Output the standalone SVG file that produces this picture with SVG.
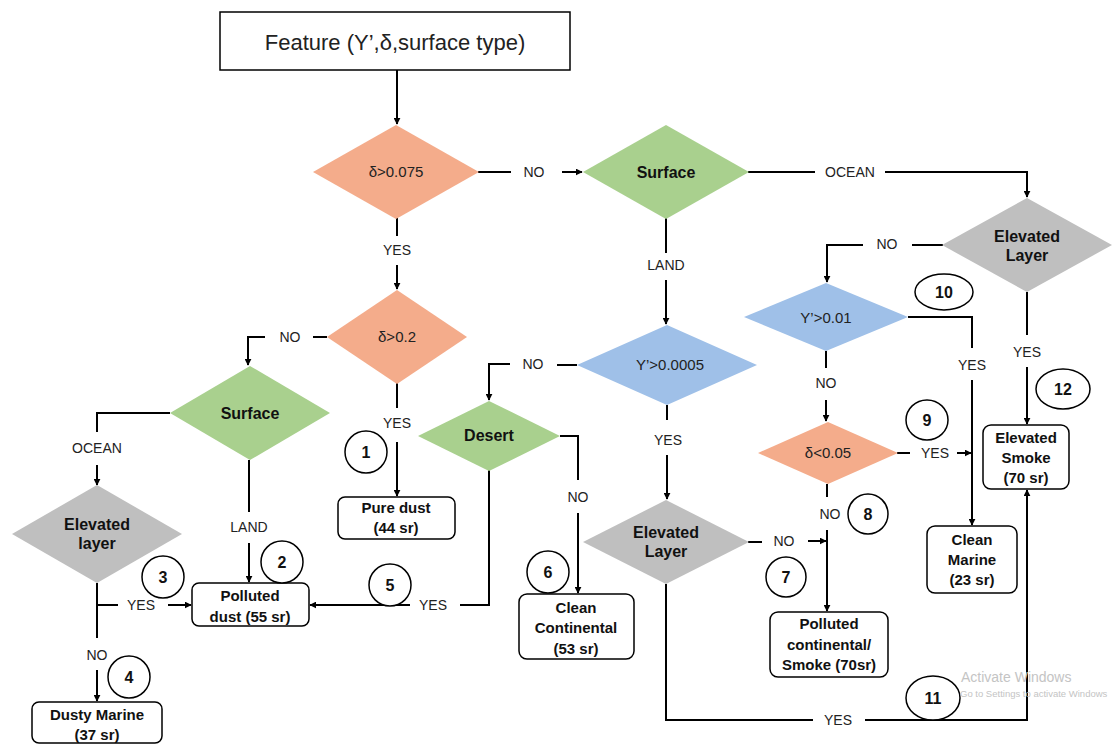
<svg xmlns="http://www.w3.org/2000/svg" width="1115" height="744" viewBox="0 0 1115 744">
  <defs>
    <marker id="arrow" viewBox="0 0 10 10" refX="9" refY="5" markerWidth="7" markerHeight="7" markerUnits="userSpaceOnUse" orient="auto">
      <path d="M0,0 L10,5 L0,10 z" fill="#000"/>
    </marker>
    <style>
      .lbl { font-family: "Liberation Sans", Arial, sans-serif; font-size: 14px; fill: #222; text-anchor: middle; }
      .cond { font-family: "Liberation Sans", Arial, sans-serif; font-size: 15px; fill: #222; text-anchor: middle; }
      .dlbl { font-family: "Liberation Sans", Arial, sans-serif; font-size: 16px; font-weight: bold; fill: #111; text-anchor: middle; }
      .box { fill: #fff; stroke: #000; stroke-width: 1.5; }
      .btxt { font-family: "Liberation Sans", Arial, sans-serif; font-size: 15px; font-weight: bold; fill: #111; text-anchor: middle; }
      .num { fill: #fff; stroke: #000; stroke-width: 1.5; }
      .ntxt { font-family: "Liberation Sans", Arial, sans-serif; font-size: 16px; font-weight: bold; fill: #111; text-anchor: middle; }
      .orange { fill: #F4AC8B; }
      .green { fill: #A9D08E; }
      .blue { fill: #9FC0E8; }
      .gray { fill: #BFBFBF; }
      .conn path { fill: none; stroke: #000; stroke-width: 2; }
      .conn path.a { marker-end: url(#arrow); }
      .wm { font-family: "Liberation Sans", Arial, sans-serif; fill: #c4c4c4; }
    </style>
  </defs>

  <rect width="1115" height="744" fill="#fff"/>

  <!-- connectors -->
  <g id="connectors" class="conn">
    <path class="a" d="M397,70 V124"/>
    <path d="M478,172 H511"/>
    <path class="a" d="M562,172 H582"/>
    <path d="M748,172 H815"/>
    <path class="a" d="M885,172 H1027 V197"/>
    <path d="M943,245 H912"/>
    <path class="a" d="M863,245 H827 V282"/>
    <path d="M908,317 H972 V348"/>
    <path class="a" d="M972,380 V525"/>
    <path d="M826,351 V368"/>
    <path class="a" d="M826,400 V421"/>
    <path d="M897,453 H910"/>
    <path class="a" d="M957,453 H971"/>
    <path d="M827,484 V497"/>
    <path class="a" d="M827,530 V611"/>
    <path d="M1027,292 V335"/>
    <path class="a" d="M1027,367 V424"/>
    <path d="M748,542 H762"/>
    <path class="a" d="M808,541 H826"/>
    <path d="M666,584 V720 H813"/>
    <path class="a" d="M865,720 H1027 V490"/>
    <path d="M397,218 V236"/>
    <path class="a" d="M397,265 V289"/>
    <path d="M666,218 V253"/>
    <path class="a" d="M666,280 V324"/>
    <path d="M327,337 H313"/>
    <path class="a" d="M265,337 H248 V365"/>
    <path d="M397,383 V408"/>
    <path class="a" d="M397,442 V496"/>
    <path d="M170,413 H97 V432"/>
    <path class="a" d="M97,465 V485"/>
    <path d="M249,460 V512"/>
    <path class="a" d="M249,543 V582"/>
    <path d="M97,583 V638"/>
    <path d="M97,605 H118"/>
    <path class="a" d="M168,605 H191"/>
    <path class="a" d="M97,670 V701"/>
    <path d="M577,365 H557"/>
    <path class="a" d="M510,364 H489 V400"/>
    <path d="M667,405 V420"/>
    <path class="a" d="M667,455 V499"/>
    <path d="M560,436 H578 V480"/>
    <path class="a" d="M578,513 V593"/>
    <path d="M489,470 V605 H460"/>
    <path class="a" d="M410,605 H310"/>

    <!-- branch labels -->
    <text class="lbl" x="534" y="177">NO</text>
    <text class="lbl" x="850" y="177">OCEAN</text>
    <text class="lbl" x="887" y="249">NO</text>
    <text class="lbl" x="972" y="370">YES</text>
    <text class="lbl" x="826" y="388">NO</text>
    <text class="lbl" x="935" y="458">YES</text>
    <text class="lbl" x="830" y="519">NO</text>
    <text class="lbl" x="1027" y="357">YES</text>
    <text class="lbl" x="784" y="546">NO</text>
    <text class="lbl" x="838" y="725">YES</text>
    <text class="lbl" x="397" y="255">YES</text>
    <text class="lbl" x="666" y="270">LAND</text>
    <text class="lbl" x="290" y="342">NO</text>
    <text class="lbl" x="397" y="428">YES</text>
    <text class="lbl" x="97" y="453">OCEAN</text>
    <text class="lbl" x="249" y="532">LAND</text>
    <text class="lbl" x="141" y="610">YES</text>
    <text class="lbl" x="97" y="660">NO</text>
    <text class="lbl" x="533" y="369">NO</text>
    <text class="lbl" x="668" y="445">YES</text>
    <text class="lbl" x="578" y="502">NO</text>
    <text class="lbl" x="433" y="610">YES</text>
  </g>

  <!-- start box -->
  <g id="feature">
    <rect x="220" y="12" width="350" height="58" fill="#fff" stroke="#000" stroke-width="1.5"/>
    <text x="395" y="50" font-family="Liberation Sans, Arial, sans-serif" font-size="22" fill="#222" text-anchor="middle">Feature (Υ’,δ,surface type)</text>
  </g>

  <!-- decisions -->
  <g id="dep-0075">
    <polygon class="orange" points="396,125 479,172 396,219 313,172"/>
    <text class="cond" x="396" y="177">δ&gt;0.075</text>
  </g>
  <g id="surface-main">
    <polygon class="green" points="666,125 749,172 666,219 583,172"/>
    <text class="dlbl" x="666" y="178">Surface</text>
  </g>
  <g id="elevated-ocean">
    <polygon class="gray" points="1027,198 1112,245 1027,292 942,245"/>
    <text class="dlbl" x="1027" y="242">Elevated</text>
    <text class="dlbl" x="1027" y="261">Layer</text>
  </g>
  <g id="ratio-001">
    <polygon class="blue" points="826,283 908,317 826,351 744,317"/>
    <text class="cond" x="826" y="323">Υ’&gt;0.01</text>
  </g>
  <g id="dep-005">
    <polygon class="orange" points="828,422 898,453 828,484 758,453"/>
    <text class="cond" x="828" y="458">δ&lt;0.05</text>
  </g>
  <g id="elevated-land">
    <polygon class="gray" points="666,500 749,542 666,584 583,542"/>
    <text class="dlbl" x="666" y="538">Elevated</text>
    <text class="dlbl" x="666" y="557">Layer</text>
  </g>
  <g id="ratio-00005">
    <polygon class="blue" points="667,325 757,365 667,405 577,365"/>
    <text class="cond" x="670" y="370">Υ’&gt;0.0005</text>
  </g>
  <g id="desert">
    <polygon class="green" points="489,401 560,436 489,471 418,436"/>
    <text class="dlbl" x="489" y="441">Desert</text>
  </g>
  <g id="dep-02">
    <polygon class="orange" points="397,290 467,337 397,384 327,337"/>
    <text class="cond" x="397" y="342">δ&gt;0.2</text>
  </g>
  <g id="surface-dust">
    <polygon class="green" points="250,366 330,413 250,460 170,413"/>
    <text class="dlbl" x="250" y="419">Surface</text>
  </g>
  <g id="elevated-dust">
    <polygon class="gray" points="97,485 182,534 97,583 12,534"/>
    <text class="dlbl" x="97" y="530">Elevated</text>
    <text class="dlbl" x="97" y="549">layer</text>
  </g>

  <!-- aerosol types -->
  <g id="pure-dust">
    <rect class="box" x="338" y="497" width="117" height="42" rx="7"/>
    <text class="btxt" x="396" y="513">Pure dust</text>
    <text class="btxt" x="396" y="533">(44 sr)</text>
  </g>
  <g id="polluted-dust">
    <rect class="box" x="192" y="583" width="117" height="43" rx="7"/>
    <text class="btxt" x="250" y="601">Polluted</text>
    <text class="btxt" x="250" y="622">dust (55 sr)</text>
  </g>
  <g id="dusty-marine">
    <rect class="box" x="32" y="702" width="130" height="41" rx="7"/>
    <text class="btxt" x="97" y="720">Dusty Marine</text>
    <text class="btxt" x="97" y="740">(37 sr)</text>
  </g>
  <g id="clean-continental">
    <rect class="box" x="519" y="594" width="115" height="65" rx="8"/>
    <text class="btxt" x="576" y="613">Clean</text>
    <text class="btxt" x="576" y="633">Continental</text>
    <text class="btxt" x="576" y="654">(53 sr)</text>
  </g>
  <g id="polluted-continental">
    <rect class="box" x="770" y="612" width="118" height="65" rx="8"/>
    <text class="btxt" x="829" y="629">Polluted</text>
    <text class="btxt" x="829" y="650">continental/</text>
    <text class="btxt" x="829" y="670">Smoke (70sr)</text>
  </g>
  <g id="clean-marine">
    <rect class="box" x="927" y="526" width="90" height="67" rx="8"/>
    <text class="btxt" x="972" y="545">Clean</text>
    <text class="btxt" x="972" y="565">Marine</text>
    <text class="btxt" x="972" y="585">(23 sr)</text>
  </g>
  <g id="elevated-smoke">
    <rect class="box" x="983" y="425" width="86" height="64" rx="8"/>
    <text class="btxt" x="1026" y="443">Elevated</text>
    <text class="btxt" x="1026" y="463">Smoke</text>
    <text class="btxt" x="1026" y="483">(70 sr)</text>
  </g>

  <!-- path numbers -->
  <g id="n1"><ellipse class="num" cx="366" cy="452" rx="21" ry="21"/><text class="ntxt" x="366" y="458">1</text></g>
  <g id="n2"><ellipse class="num" cx="282" cy="562" rx="21" ry="21"/><text class="ntxt" x="282" y="568">2</text></g>
  <g id="n3"><ellipse class="num" cx="163" cy="577" rx="21" ry="21"/><text class="ntxt" x="163" y="583">3</text></g>
  <g id="n4"><ellipse class="num" cx="129" cy="677" rx="21" ry="21"/><text class="ntxt" x="129" y="683">4</text></g>
  <g id="n5"><ellipse class="num" cx="390" cy="585" rx="21" ry="21"/><text class="ntxt" x="390" y="591">5</text></g>
  <g id="n6"><ellipse class="num" cx="548" cy="572" rx="21" ry="21"/><text class="ntxt" x="548" y="578">6</text></g>
  <g id="n7"><ellipse class="num" cx="786" cy="577" rx="20" ry="20"/><text class="ntxt" x="786" y="583">7</text></g>
  <g id="n8"><ellipse class="num" cx="868" cy="514" rx="20" ry="20"/><text class="ntxt" x="868" y="520">8</text></g>
  <g id="n9"><ellipse class="num" cx="927" cy="420" rx="21" ry="20"/><text class="ntxt" x="927" y="426">9</text></g>
  <g id="n10"><ellipse class="num" cx="944" cy="292" rx="29" ry="18"/><text class="ntxt" x="944" y="298">10</text></g>
  <g id="n11"><ellipse class="num" cx="933" cy="698" rx="27" ry="22"/><text class="ntxt" x="933" y="704">11</text></g>
  <g id="n12"><ellipse class="num" cx="1063" cy="389" rx="27" ry="20"/><text class="ntxt" x="1063" y="395">12</text></g>

  <!-- system overlay text -->
  <text class="wm" x="961" y="682" font-size="14">Activate Windows</text>
  <text class="wm" x="960" y="697" font-size="9.5">Go to Settings to activate Windows</text>
</svg>
